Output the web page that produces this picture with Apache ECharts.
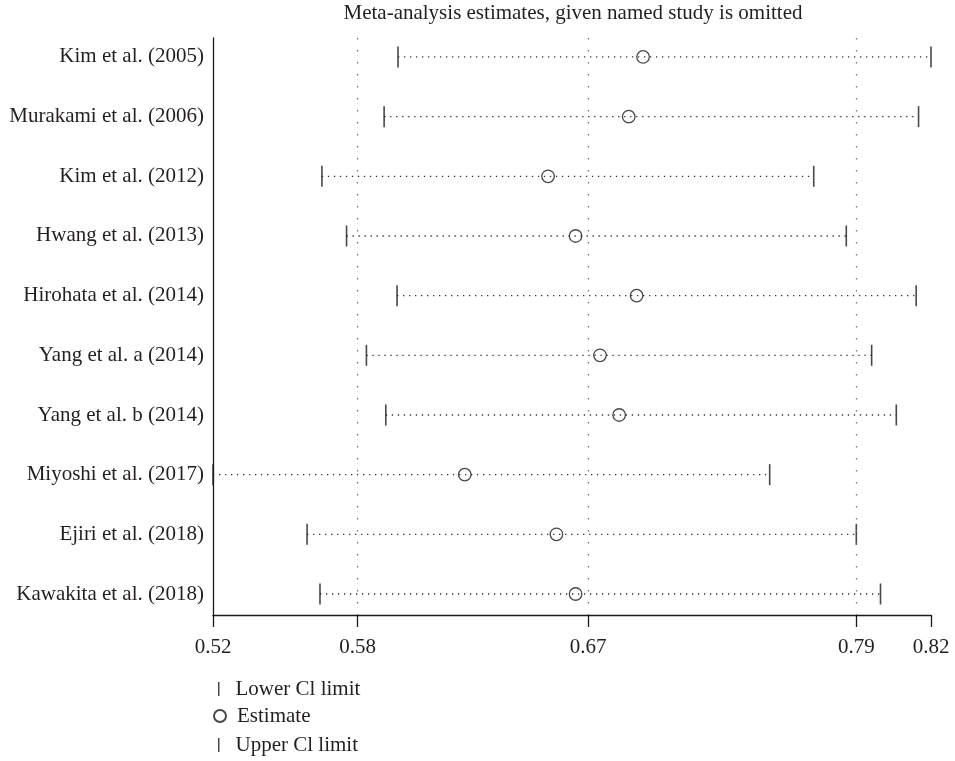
<!DOCTYPE html>
<html>
<head>
<meta charset="utf-8">
<script src="https://cdn.jsdelivr.net/npm/echarts@6/dist/echarts.min.js"></script>
<style>html,body{margin:0;padding:0;background:#fff}#c{width:955px;height:761px}</style>
</head>
<body>
<div id="c"></div>
<script>
const studies = ['Kim et al. (2005)','Murakami et al. (2006)','Kim et al. (2012)','Hwang et al. (2013)','Hirohata et al. (2014)','Yang et al. a (2014)','Yang et al. b (2014)','Miyoshi et al. (2017)','Ejiri et al. (2018)','Kawakita et al. (2018)'];
const lowerCI  = [0.5973,0.5915,0.5655,0.5758,0.5969,0.5841,0.5922,0.5200,0.5593,0.5647];
const estimate = [0.6997,0.6937,0.6600,0.6715,0.6970,0.6817,0.6897,0.6252,0.6635,0.6715];
const upperCI  = [0.8200,0.8148,0.7710,0.7846,0.8138,0.7952,0.8055,0.7526,0.7888,0.7989];
const tickValues = [0.52,0.5804,0.6767,0.7888,0.82];
const tickLabels = ['0.52','0.58','0.67','0.79','0.82'];
const gridValues = [0.5804,0.6767,0.7888];
const legendNames = ['Lower Cl limit','Estimate','Upper Cl limit'];
const titleText = 'Meta-analysis estimates, given named study is omitted';

const FONT = 'Liberation Serif';
const TXT = '#231f20';
const INK = '#1a1a1a';
const rows = studies.map((s,i)=>i);

const chart = echarts.init(document.getElementById('c'), null, {renderer:'canvas'});
const legTxt = function(pad){return {fontFamily:FONT,fontSize:21,color:TXT,padding:[0,0,0,pad],lineHeight:24};};
chart.setOption({
  animation:false,
  backgroundColor:'#fff',
  title:{text:titleText,left:573,top:3,padding:0,textAlign:'center',
    textStyle:{fontFamily:FONT,fontSize:21,fontWeight:'normal',color:TXT}},
  legend:[
    {orient:'vertical',left:218,top:677,padding:0,itemWidth:1.5,itemHeight:14,selectedMode:false,
      data:[{name:legendNames[0],icon:'rect'}],textStyle:legTxt(11)},
    {orient:'vertical',left:213,top:704,padding:0,itemWidth:12,itemHeight:12,selectedMode:false,
      data:[{name:legendNames[1],icon:'circle'}],textStyle:legTxt(6)},
    {orient:'vertical',left:218,top:733,padding:0,itemWidth:1.5,itemHeight:14,selectedMode:false,
      data:[{name:legendNames[2],icon:'rect'}],textStyle:legTxt(11)}
  ],
  grid:{left:213,right:24,top:38,bottom:146,containLabel:false,outerBoundsMode:'none'},
  xAxis:{type:'value',min:0.52,max:0.82,
    axisLine:{show:true,onZero:false,lineStyle:{color:INK,width:1.3}},
    axisTick:{show:true,inside:false,length:12,customValues:tickValues,lineStyle:{color:INK,width:1.3}},
    axisLabel:{show:true,customValues:tickValues,margin:22,fontFamily:FONT,fontSize:21,color:TXT,
      formatter:function(v){let b=0;for(let i=1;i<tickValues.length;i++){if(Math.abs(tickValues[i]-v)<Math.abs(tickValues[b]-v))b=i;}return tickLabels[b];}},
    splitLine:{show:false}},
  yAxis:{type:'value',inverse:true,min:-0.318,max:9.352,
    axisLine:{show:true,onZero:false,lineStyle:{color:INK,width:1.3}},
    axisTick:{show:false},
    axisLabel:{show:true,customValues:rows,margin:9,fontFamily:FONT,fontSize:21,color:TXT,
      formatter:function(v){return studies[Math.round(v)];}},
    splitLine:{show:false}},
  series:[
    {type:'custom',name:'ci',silent:true,z:2,
      data:rows.map(i=>[lowerCI[i],upperCI[i],i]),
      encode:{x:[0,1],y:2},
      renderItem:function(params,api){
        const p1=api.coord([api.value(0),api.value(2)]);
        const p2=api.coord([api.value(1),api.value(2)]);
        return {type:'line',shape:{x1:p1[0],y1:p1[1],x2:p2[0],y2:p2[1]},
          style:{stroke:'#333',lineWidth:1.3,lineDash:[1.3,4.7]}};
      },
      markLine:{silent:true,symbol:'none',precision:6,label:{show:false},
        lineStyle:{color:'#777',type:[1.5,10.5],width:1.3},
        data:gridValues.map(v=>({xAxis:v}))}
    },
    {type:'scatter',name:legendNames[0],z:4,symbol:'rect',symbolSize:[1.6,21],
      itemStyle:{color:INK},data:rows.map(i=>[lowerCI[i],i])},
    {type:'scatter',name:legendNames[1],z:5,symbol:'circle',symbolSize:12.5,
      itemStyle:{color:'rgba(255,255,255,0)',borderColor:INK,borderWidth:1.3},data:rows.map(i=>[estimate[i],i])},
    {type:'scatter',name:legendNames[2],z:4,symbol:'rect',symbolSize:[1.6,21],
      itemStyle:{color:INK},data:rows.map(i=>[upperCI[i],i])}
  ]
});
</script>
</body>
</html>
